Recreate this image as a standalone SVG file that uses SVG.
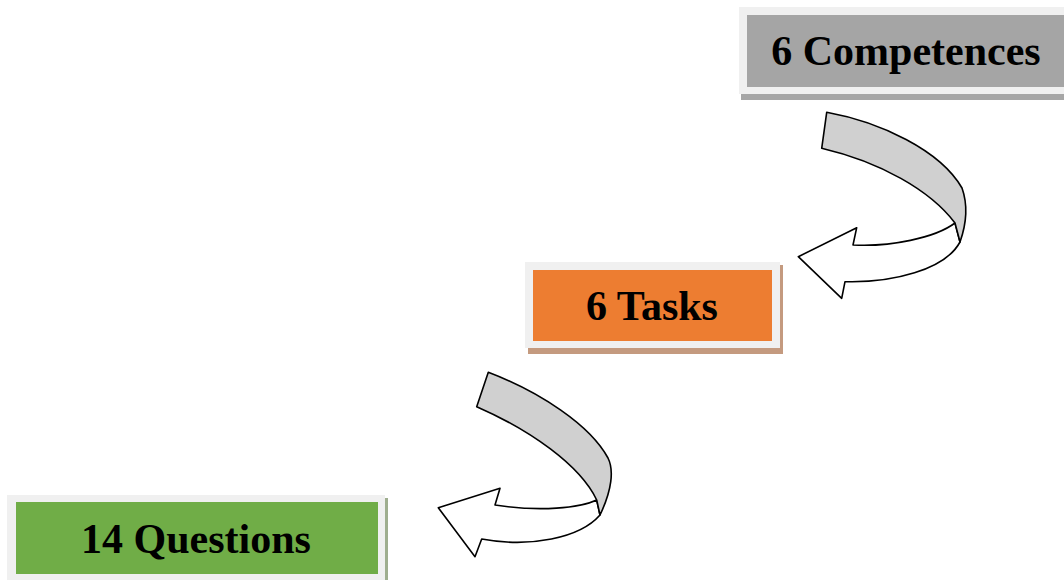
<svg xmlns="http://www.w3.org/2000/svg" width="1064" height="580" viewBox="0 0 1064 580">
<style>
.outer{fill:#f0f0f0}
.lbl{font-family:"Liberation Serif","Times New Roman",serif;font-weight:bold;font-size:42px;fill:#000;text-anchor:middle}
.band{fill:#d0d0d0;stroke:#000;stroke-width:1.6;stroke-linejoin:round}
.shaft{fill:#fff;stroke:#000;stroke-width:1.6;stroke-linejoin:round}
</style>
<rect width="1064" height="580" fill="#fff"/>
<g id="competences">
<rect x="741" y="93" width="330" height="7" fill="#a6a6a6"/>
<rect class="outer" x="739" y="7" width="330" height="87"/>
<rect x="747" y="15" width="322" height="72" fill="#a5a5a5"/>
<text class="lbl" x="906" y="65">6 Competences</text>
</g>
<g id="tasks">
<rect x="528" y="265" width="255" height="89" fill="#c49a7f"/>
<rect class="outer" x="525" y="262" width="255" height="86"/>
<rect x="533" y="270" width="239" height="71" fill="#ed7d31"/>
<text class="lbl" x="652" y="320">6 Tasks</text>
</g>
<g id="questions">
<rect x="10" y="498" width="378" height="90" fill="#9fae8f"/>
<rect class="outer" x="7" y="495" width="378" height="90"/>
<rect x="16" y="502" width="362" height="72" fill="#70ad47"/>
<text class="lbl" x="196" y="553">14 Questions</text>
</g>
<g id="connectors">
<g id="arrow1">
<path class="shaft" d="M955,223 C935,238 890,247 853,245 L856.7,227.7 L798.3,256.7 L841.7,298.3 L845,281.7 C892,283 945,270 960,242 Z"/>
<path class="band" d="M826.7,112.3 C880,122 940,150 962,188 C968,205 966,225 960,242 L955,223 C930,190 880,162 821.7,148.3 Z"/>
</g>
<g id="arrow2">
<path class="shaft" d="M596.7,500 C580,508 540,512 495,505 L500,488.3 L438.3,507.7 L475,556.7 L481.7,539 C530,548 580,538 600,515 Z"/>
<path class="band" d="M488.3,372.3 C540,392 590,425 608,458 C614,470 612,490 600,515 L596.7,500 C580,465 530,430 476.7,406.7 Z"/>
</g>
</g>
</svg>
